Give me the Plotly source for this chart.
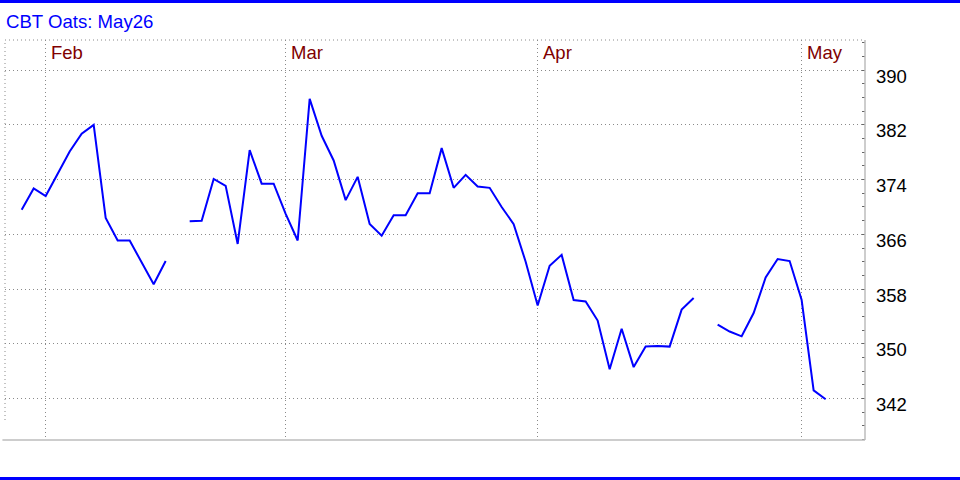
import plotly.graph_objects as go

# ---- data ----
title_text = "CBT Oats: May26"
prices = [
    369.6, 372.7, 371.6, 374.9, 378.1, 380.7, 382.0, 368.4, 365.1, 365.1,
    361.9, 358.7, 362.1, None, 367.9, 368.0, 374.1, 373.1, 364.6, 378.3,
    373.4, 373.4, 369.0, 365.1, 385.8, 380.4, 376.8, 371.0, 374.4, 367.5,
    365.8, 368.8, 368.8, 372.0, 372.0, 378.6, 372.8, 374.7, 373.0, 372.8,
    370.0, 367.5, 362.0, 355.6, 361.4, 363.0, 356.4, 356.2, 353.4, 346.3,
    352.2, 346.6, 349.6, 349.7, 349.6, 355.0, 356.7, None, 352.8, 351.8,
    351.1, 354.5, 359.7, 362.4, 362.1, 356.4, 343.2, 341.9,
]
bar_index = list(range(len(prices)))
month_labels = ["Feb", "Mar", "Apr", "May"]
month_index = [2, 22, 43, 65]
y_ticks = [342, 350, 358, 366, 374, 382, 390]

FONT = "Arial, Liberation Sans, sans-serif"
GRID = "#8a8a8a"
DOT = "1px,3px"
FRAME = "#bdbdbd"
BLUE = "#0000ff"

fig = go.Figure()
fig.add_trace(go.Scatter(
    x=bar_index, y=prices, mode="lines",
    line=dict(color=BLUE, width=2),
    connectgaps=False, hoverinfo="x+y", showlegend=False,
))

fig.update_layout(
    width=960, height=480,
    margin=dict(l=5, r=95, t=40, b=40),
    paper_bgcolor="white", plot_bgcolor="white",
    font=dict(family=FONT, size=18, color="black"),
    title=dict(text=title_text, x=6 / 960, xanchor="left",
               y=1 - 21 / 480, yanchor="middle",
               font=dict(family=FONT, size=18.6, color=BLUE)),
    xaxis=dict(
        range=[-1.39, 70.28], tickvals=month_index, showticklabels=False,
        showgrid=True, gridcolor=GRID, griddash=DOT, gridwidth=1,
        zeroline=False, showline=False, ticks="",
    ),
    yaxis=dict(
        range=[335.95, 394.4], side="right", tickvals=y_ticks,
        showgrid=True, gridcolor=GRID, griddash=DOT, gridwidth=1,
        zeroline=False, showline=False, ticks="",
        ticklabelstandoff=10, ticklabelshift=6,
        tickfont=dict(family=FONT, size=18.5, color="black"),
        minor=dict(dtick=2, tick0=342, ticks="inside", ticklen=3,
                   tickcolor="#666666", showgrid=False),
    ),
)

# month labels inside the top of the plot
for lab, idx in zip(month_labels, month_index):
    fig.add_annotation(x=idx, y=(440 - 53) / 400, xref="x", yref="paper",
                       text=lab, showarrow=False, xanchor="left", yanchor="middle",
                       xshift=3, font=dict(family=FONT, size=18.5, color="#800000"))

# frame: dotted top/left, solid right/bottom
fig.add_shape(type="line", xref="paper", yref="paper", x0=0, x1=1, y0=1, y1=1,
              line=dict(color=GRID, width=1, dash=DOT))
fig.add_shape(type="line", xref="paper", yref="paper", x0=0, x1=0, y0=0.05, y1=1,
              line=dict(color=GRID, width=1, dash=DOT))
fig.add_shape(type="line", xref="paper", yref="paper", x0=-0.003, x1=1, y0=0, y1=0,
              line=dict(color=FRAME, width=1.5))
fig.add_shape(type="line", xref="paper", yref="paper", x0=1, x1=1, y0=0, y1=1,
              line=dict(color=FRAME, width=1.5))

# blue rules at top and bottom of the page
fig.add_shape(type="rect", xref="paper", yref="paper",
              x0=-5 / 860, x1=955 / 860, y0=437 / 400, y1=440 / 400,
              line=dict(width=0), fillcolor=BLUE)
fig.add_shape(type="rect", xref="paper", yref="paper",
              x0=-5 / 860, x1=955 / 860, y0=-40 / 400, y1=-37 / 400,
              line=dict(width=0), fillcolor=BLUE)

fig.write_html("out.html", config={"displayModeBar": False},
               post_script="document.body.style.margin='0';document.body.style.overflow='hidden';")
